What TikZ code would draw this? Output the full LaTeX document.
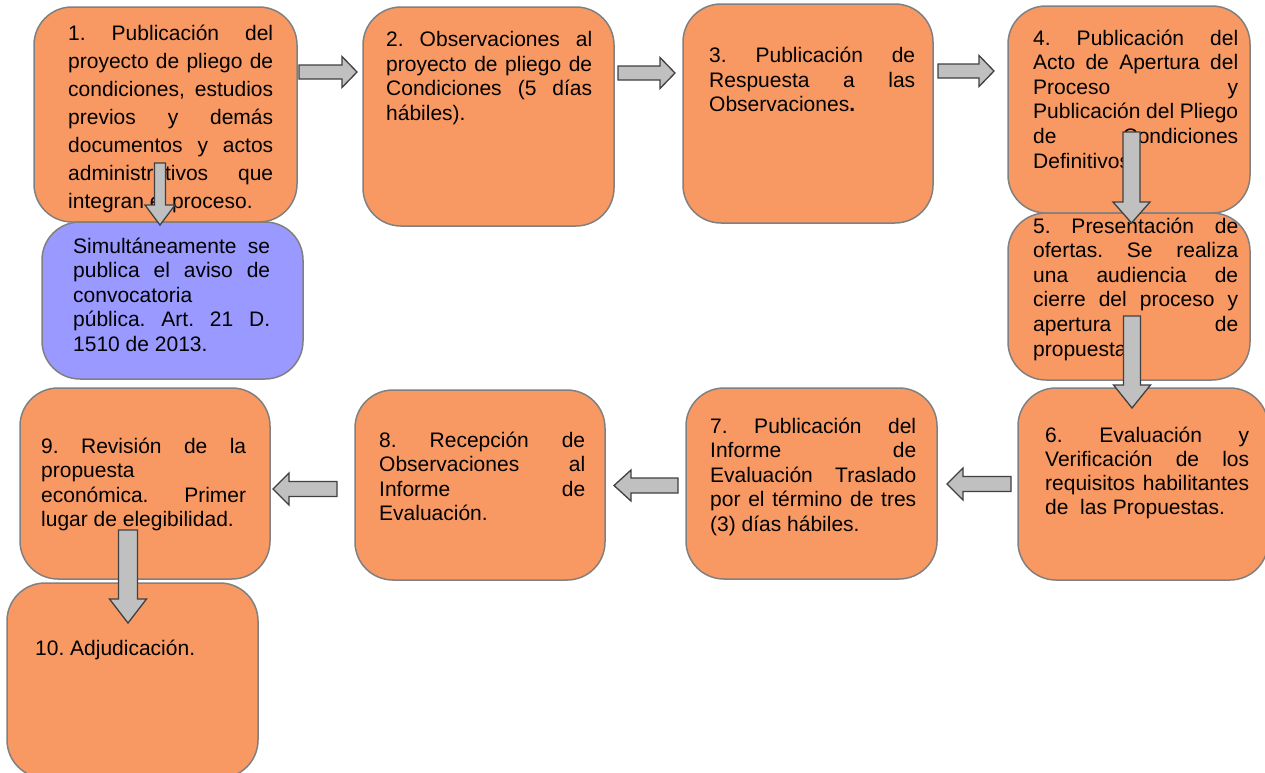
\documentclass[tikz,border=0pt]{standalone}
\usepackage{fontspec}
\setmainfont{Liberation Sans}
\usetikzlibrary{fit}
\definecolor{boxorange}{RGB}{248,153,100}
\definecolor{boxblue}{RGB}{153,153,255}
\definecolor{bordergray}{RGB}{128,128,128}
\definecolor{arrowfill}{RGB}{192,192,192}
\definecolor{arrowline}{RGB}{64,64,64}
\frenchspacing
\newcommand{\jstl}[1]{\hbox to \hsize{#1}}
\newcommand{\lastl}[1]{\hbox to \hsize{#1\hfil}}
\newcommand{\boxtext}[3][24.6]{\parbox[t]{#2}{\fontsize{21}{#1}\selectfont\frenchspacing #3}}
\newcommand{\arrowRight}[4]{%
  \draw[blockarrow] (#1,#4-7) -- (#2,#4-7) -- (#2,#4-15.5) -- (#3,#4) -- (#2,#4+15.5) -- (#2,#4+7) -- (#1,#4+7) -- cycle;}
\newcommand{\arrowLeft}[6]{%
  \draw[blockarrow] (#3,#4-#5) -- (#2,#4-#5) -- (#2,#4-#6) -- (#1,#4) -- (#2,#4+#6) -- (#2,#4+#5) -- (#3,#4+#5) -- cycle;}
\newcommand{\arrowDown}[6]{%
  \draw[blockarrow] (#1-#5,#2) -- (#1+#5,#2) -- (#1+#5,#3) -- (#1+#6,#3) -- (#1,#4) -- (#1-#6,#3) -- (#1-#5,#3) -- cycle;}
\begin{document}
\begin{tikzpicture}[x=1pt,y=-1pt,
  box/.style={draw=bordergray, line width=1.5pt, rounded corners=38pt, fill=boxorange, inner sep=0pt},
  bluebox/.style={box, fill=boxblue},
  txt/.style={inner sep=0pt, anchor=base west},
  blockarrow/.style={draw=arrowline, fill=arrowfill, line width=1.3pt, line join=miter}]
\useasboundingbox (0,0) rectangle (1265,772);
% boxes
\node[box, fit={(34,7) (297,222)}] (b1) {};
\node[bluebox, fit={(42,222) (303,379)}] (bb) {};
\node[box, fit={(363,7) (614,226)}] (b2) {};
\node[box, fit={(683,4) (933,223)}] (b3) {};
\node[box, fit={(1008,6) (1250,213)}] (b4) {};
\node[box, fit={(1008,213) (1250,380)}] (b5) {};
\node[box, fit={(1018,388) (1268,580)}] (b6) {};
\node[box, fit={(686,388) (937,579)}] (b7) {};
\node[box, fit={(355,390) (605,580)}] (b8) {};
\node[box, fit={(20,388) (270,579)}] (b9) {};
\node[box, fit={(7,583) (258,778)}] (b10) {};
% texts
\node[txt] (t1) at (68,40) {\boxtext[28]{205pt}{%
\jstl{1. Publicación del}
\jstl{proyecto de pliego de}
\jstl{condiciones, estudios}
\jstl{previos y demás}
\jstl{documentos y actos}
\jstl{administrativos que}
\lastl{integran el proceso.}}};
\node[txt] (tb) at (73,253) {\boxtext{197pt}{%
\jstl{Simultáneamente se}
\jstl{publica el aviso de}
\lastl{convocatoria}
\jstl{pública. Art. 21 D.}
\lastl{1510 de 2013.}}};
\node[txt] (t2) at (386,46.7) {\boxtext{206pt}{%
\jstl{2. Observaciones al}
\jstl{proyecto de pliego de}
\jstl{Condiciones (5 días}
\lastl{hábiles).}}};
\node[txt] (t3) at (709,62.7) {\boxtext{206pt}{%
\jstl{3. Publicación de}
\jstl{Respuesta a las}
\lastl{Observaciones\textbf{.}}}};
\node[txt] (t4) at (1033,45) {\boxtext{205pt}{%
\jstl{4. Publicación del}
\jstl{Acto de Apertura del}
\jstl{Proceso y}
\jstl{Publicación del Pliego}
\jstl{de Condiciones}
\lastl{Definitivos.}}};
\node[txt] (t5) at (1033,233) {\boxtext{205pt}{%
\jstl{5. Presentación de}
\jstl{ofertas. Se realiza}
\jstl{una audiencia de}
\jstl{cierre del proceso y}
\jstl{apertura de}
\lastl{propuestas.}}};
\node[txt] (t6) at (1045,442) {\boxtext[24]{204pt}{%
\jstl{6. Evaluación y}
\jstl{Verificación de los}
\jstl{requisitos habilitantes}
\lastl{de\ \ las Propuestas.}}};
\node[txt] (t7) at (710,433) {\boxtext{206pt}{%
\jstl{7. Publicación del}
\jstl{Informe de}
\jstl{Evaluación Traslado}
\jstl{por el término de tres}
\lastl{(3) días hábiles.}}};
\node[txt] (t8) at (379,447) {\boxtext{206pt}{%
\jstl{8. Recepción de}
\jstl{Observaciones al}
\jstl{Informe de}
\lastl{Evaluación.}}};
\node[txt] (t9) at (41,453) {\boxtext{205pt}{%
\jstl{9. Revisión de la}
\lastl{propuesta}
\jstl{económica. Primer}
\lastl{lugar de elegibilidad.}}};
\node[txt] (t10) at (35,655) {\fontsize{21}{24.6}\selectfont 10. Adjudicación.};
% block arrows
\arrowRight{299}{342}{357}{72}
\arrowRight{618}{660}{675}{73}
\arrowRight{938}{979}{994}{71}
\arrowDown{160}{163}{205}{225}{5.5}{15}
\arrowDown{1131.5}{132}{202}{223}{8.5}{18.5}
\arrowDown{1132}{316}{385}{408}{8.5}{18.5}
\arrowDown{128}{530}{599}{623}{9.5}{18.5}
\arrowLeft{947}{963}{1011}{484}{7.5}{16}
\arrowLeft{614}{631}{678}{485.5}{7.5}{15.5}
\arrowLeft{273}{289}{337}{489}{7.5}{16}
\end{tikzpicture}
\end{document}
